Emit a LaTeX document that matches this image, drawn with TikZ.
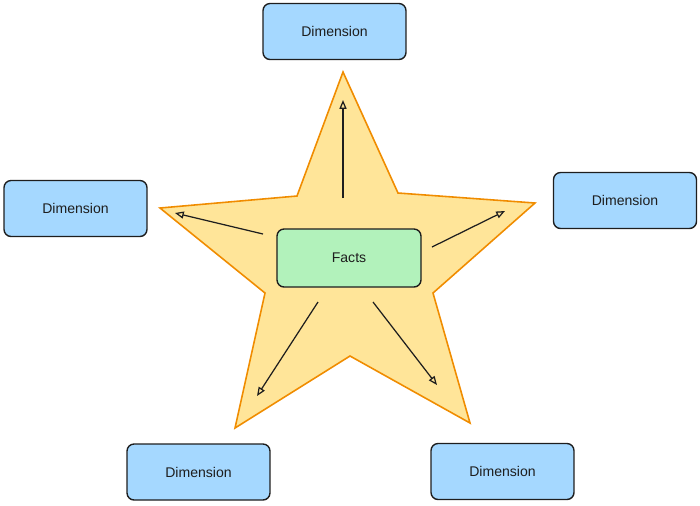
\documentclass[tikz,border=0pt]{standalone}
\usepackage{fontspec}
\setmainfont{Liberation Sans}
\usetikzlibrary{arrows.meta}
\definecolor{starfill}{HTML}{FFE599}
\definecolor{starline}{HTML}{F08C00}
\definecolor{dimfill}{HTML}{A5D8FF}
\definecolor{factfill}{HTML}{B2F2BB}
\definecolor{ink}{HTML}{1E1E1E}
\begin{document}
\begin{tikzpicture}[x=0.02cm,y=-0.02cm,
  box/.style={draw=ink,line width=0.8pt,rounded corners=4pt,font=\footnotesize,text=ink},
  dim/.style={box,fill=dimfill},
  arr/.style={draw=ink,line width=0.7pt,-{Triangle[open,length=5pt,width=4pt]}}]
\useasboundingbox (0,0) rectangle (700,505);
\draw[fill=starfill,draw=starline,line width=0.9pt,line join=miter]
 (343,72) -- (398,193) -- (535,203) -- (433,293) -- (470,423) -- (350,356)
 -- (235,428) -- (265,293) -- (160,208) -- (297,196) -- cycle;
\node[box,fill=factfill,minimum width=144\pgflinewidth*0+2.88cm,minimum height=1.16cm] (f) at (349,258) {Facts};
\foreach \n/\x/\y in {t/334.5/31.5, l/75.5/208.5, r/625/200.5, bl/198.5/472, br/502.5/471.5}
  \node[dim,minimum width=2.86cm,minimum height=1.12cm] (\n) at (\x,\y) {Dimension};
\coordinate (s1) at (343,198); \coordinate (e1) at (343,100);
\coordinate (s2) at (263,234); \coordinate (e2) at (175,213);
\coordinate (s3) at (432,247); \coordinate (e3) at (505,211);
\coordinate (s4) at (318,302); \coordinate (e4) at (257,396);
\coordinate (s5) at (373,302); \coordinate (e5) at (437,385);
\foreach \i in {1,...,5} \draw[arr] (s\i) -- (e\i);
\end{tikzpicture}
\end{document}
